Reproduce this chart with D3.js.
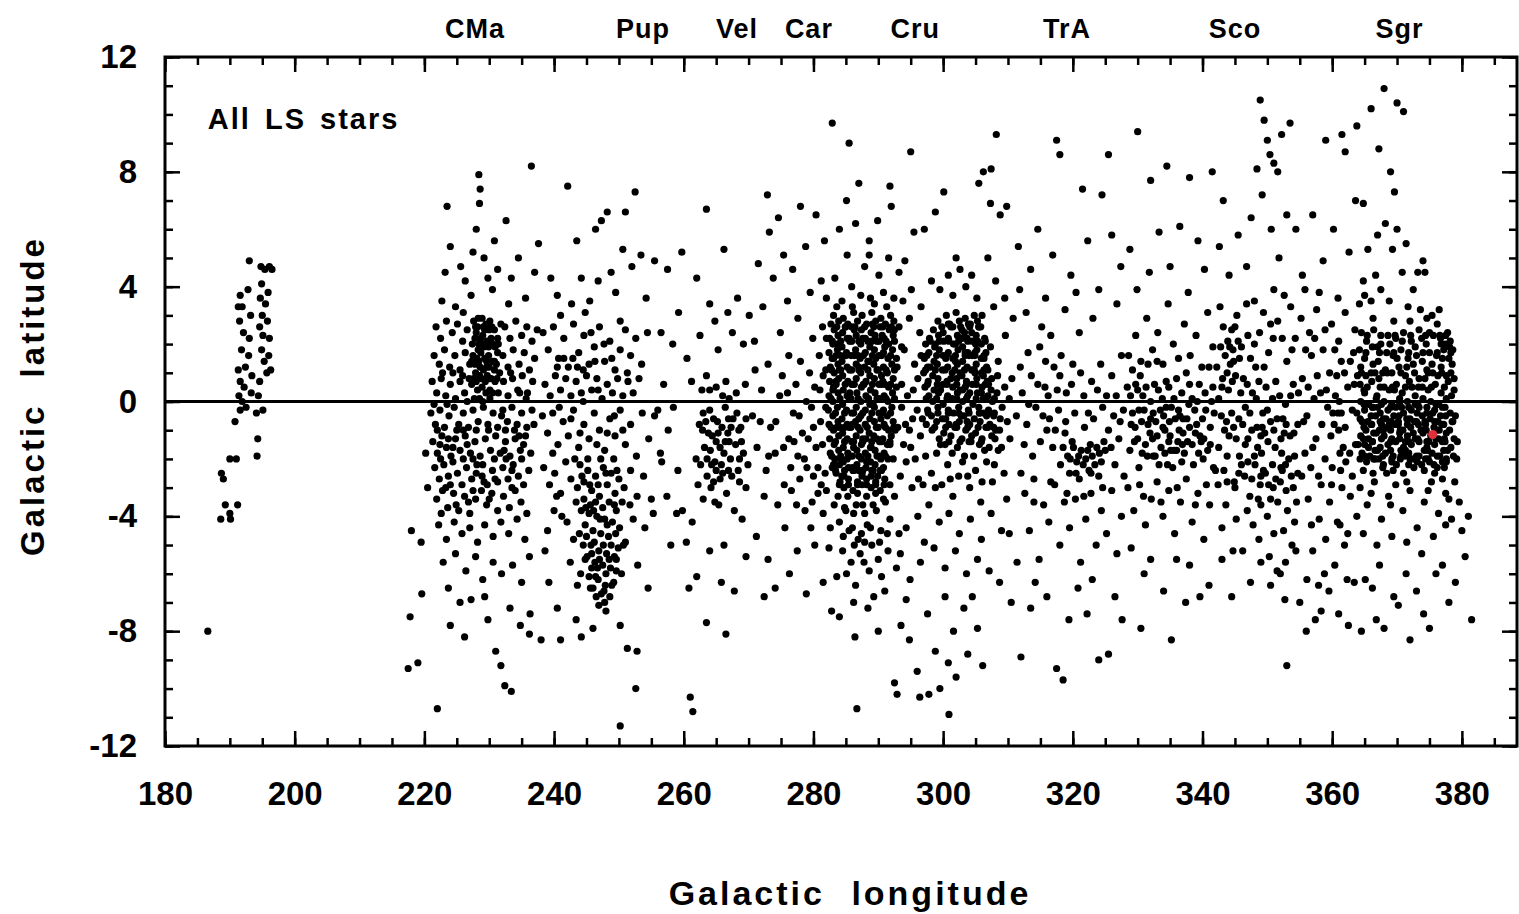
<!DOCTYPE html>
<html>
<head>
<meta charset="utf-8">
<script src="https://cdn.jsdelivr.net/npm/d3@7"></script>
<style>
  body { margin: 0; background: #fff; }
  text { font-family: "Liberation Sans", Arial, Helvetica, sans-serif; font-weight: bold; fill: #000; }
</style>
</head>
<body>
<div id="chart"></div>
<script>
// star positions [galactic longitude, galactic latitude]
var anticentre = [[186.6,-8.0],[188.6,-4.1],[190.1,-4.1],[189.3,-3.6],[191.2,-3.6],[190.0,-3.9],[188.7,-2.5],[189.0,-2.7],[190.0,-2.0],[191.0,-2.0],
  [190.8,-0.7],[191.6,-0.3],[191.4,0.2],[191.9,0.0],[192.5,-0.2],[192.2,0.5],[191.6,0.7],[191.3,1.1],[192.4,1.2],[191.8,1.8],[192.1,2.4],[191.5,2.8],
  [191.3,3.3],[191.9,3.3],[191.6,3.7],[192.8,3.9],[193.0,4.9],[193.2,3.0],[193.0,2.2],[192.9,1.6],[193.4,0.9],[193.3,0.3],[194.1,-0.4],[194.3,-1.3],
  [194.2,-1.9],[195.1,-0.3],[194.4,0.2],[194.6,0.7],[195.7,1.0],[195.3,1.4],[194.9,1.8],[195.1,2.3],[194.6,2.6],[195.0,3.0],[194.7,3.6],[194.9,4.1],
  [194.8,4.7],[195.4,4.6],[196.1,4.7],[196.5,4.6],[195.5,3.4],[195.8,2.8],[196.1,2.2],[195.9,3.8],[196.3,1.1],[196.0,1.6]];

var canisMajor = [[223.5,6.8],[224.0,5.4],[223.2,4.5],[222.7,3.5],[225.6,4.7],[226.3,4.2],[227.2,3.7],[227.5,5.2],[228.4,7.9],[228.6,7.4],[228.5,6.9],
  [228.0,6.0],[229.2,5.0],[229.8,4.3],[230.5,3.9],[231.3,4.6],[230.8,5.6],[232.6,6.3],[233.4,4.3],[234.5,5.0],[236.5,8.2],[235.6,3.6],[237.0,4.5],
  [233.0,3.4],[224.8,3.3],[226.0,3.1],
  [227.6,2.8],[228.2,2.6],[228.9,2.9],[229.5,2.7],[230.1,2.8],[230.8,2.5],[231.3,2.2],[227.8,2.2],[228.4,2.0],[229.0,2.3],[229.7,2.1],[230.3,2.2],
  [230.9,1.9],[227.5,1.6],[228.1,1.5],[228.7,1.7],[229.3,1.5],[229.9,1.6],[230.5,1.4],[231.1,1.3],[227.9,1.0],[228.5,0.9],[229.1,1.1],[229.7,0.9],
  [230.3,0.8],[230.9,0.7],[228.2,0.4],[228.9,0.5],[229.5,0.3],[230.1,0.4],[231.6,1.0],[231.8,2.7],[227.3,0.6],[229.2,1.9],[229.6,1.2],[228.6,1.2],
  [230.0,2.5],[228.3,2.9],[229.0,0.0],
  [228.0,2.4],[228.7,2.2],[229.3,2.5],[230.6,2.0],[229.9,1.9],[228.3,1.8],[230.8,1.1],[230.0,1.2],[229.4,0.7],[228.0,0.7],[227.8,1.3],[231.3,1.7],[230.5,0.3],
  [227.9,2.6],[229.1,2.6],[230.4,2.6],[227.4,2.0],[228.9,2.0],[230.2,2.0],[231.4,2.0],[227.3,1.4],[228.4,1.4],[229.6,1.4],[230.8,1.4],[227.6,0.8],
  [228.8,0.8],[230.0,0.8],[231.2,0.8],[228.5,0.1],[230.1,0.1],
  [221.8,2.6],[222.5,2.2],[223.4,2.8],[224.3,2.4],[225.1,2.7],[225.9,2.1],[226.6,2.5],[232.4,2.6],[233.2,2.2],[234.1,2.8],[235.0,2.3],[235.8,2.6],
  [236.6,2.1],[237.4,2.5],[221.5,1.6],[222.3,1.3],[223.1,1.8],[223.9,1.2],[224.7,1.6],[225.5,1.1],[226.3,1.7],[227.0,1.3],[232.1,1.6],[232.9,1.2],
  [233.7,1.8],[234.6,1.3],[235.4,1.7],[236.2,1.1],[237.0,1.5],[221.2,0.7],[221.9,0.3],[222.6,0.8],[223.3,0.2],[224.0,0.6],[224.8,0.1],[225.5,0.7],
  [226.2,0.3],[226.9,0.8],[227.7,0.1],[231.4,0.3],[232.2,0.7],[232.9,0.2],[233.6,0.8],[234.4,0.4],[235.1,0.9],[235.9,0.3],[236.7,0.7],
  [222.8,1.0],[224.4,1.0],[225.9,0.9],[233.3,1.0],[235.7,0.1],[221.5,-0.1],[223.5,-0.1],[226.6,0.0],[234.7,0.3],
  [221.0,-0.4],[221.7,-0.8],[222.4,-0.3],[223.1,-0.9],[223.8,-0.5],[224.6,-0.2],[225.3,-0.8],[226.0,-0.4],[226.8,-0.9],[227.5,-0.3],[228.3,-0.7],
  [229.1,-0.2],[229.8,-0.8],[230.6,-0.4],[231.3,-0.9],[232.1,-0.3],[232.8,-0.7],[233.5,-0.2],[234.3,-0.8],[235.0,-0.4],[235.8,-0.9],[236.6,-0.3],
  [222.0,-1.0],[223.7,-1.3],[225.0,-1.0],[226.6,-1.5],[232.5,-1.0],[233.9,-1.0],[235.3,-1.5],[236.9,-0.8],
  [222.4,-1.5],[224.4,-1.6],[226.0,-1.0],[227.5,-2.0],[229.2,-2.8],[230.9,-2.7],[232.3,-1.7],[233.5,-2.4],[235.0,-2.0],[223.3,-3.0],[226.8,-3.5],
  [229.9,-1.0],[231.9,-0.5],[228.0,-1.0],[234.6,-1.2],
  [221.3,-1.4],[222.0,-1.8],[222.7,-1.2],[223.4,-1.6],[224.1,-1.9],[224.8,-1.3],[225.5,-1.7],[226.3,-1.2],[227.1,-1.8],[227.8,-1.4],[228.6,-1.9],
  [229.4,-1.3],[230.2,-1.7],[231.0,-1.2],[231.7,-1.8],[232.5,-1.4],[233.2,-1.9],[234.0,-1.3],[234.8,-1.7],[235.6,-1.2],[236.4,-1.8],
  [228.0,-2.5],[229.0,-2.2],[230.8,-2.0],[232.6,-2.0],[224.0,-2.9],[226.0,-2.0],[222.5,-2.0],
  [221.6,-2.3],[222.3,-2.7],[223.0,-2.2],[223.7,-2.6],[224.4,-2.1],[225.1,-2.5],[225.8,-2.9],[226.5,-2.3],[227.3,-2.7],[228.1,-2.2],[228.9,-2.6],
  [229.7,-2.9],[230.5,-2.4],[231.3,-2.8],[232.1,-2.3],[232.9,-2.7],[233.7,-2.2],[234.5,-2.6],[235.3,-2.9],[236.1,-2.4],
  [221.9,-3.4],[222.8,-3.1],[223.6,-3.7],[224.5,-3.2],[225.3,-3.8],[226.2,-3.3],[227.0,-3.9],[227.9,-3.4],[228.8,-3.1],[229.6,-3.6],[230.4,-3.2],
  [231.3,-3.8],[232.2,-3.3],[233.1,-3.7],[234.0,-3.1],[234.9,-3.5],[235.8,-3.9],[224.9,-3.6],[227.5,-3.1],[230.0,-3.4],[233.5,-3.0],[222.6,-3.9],
  [222.2,-4.3],[223.4,-4.8],[224.6,-4.2],[225.8,-4.6],[227.0,-4.4],
  [228.2,-4.9],[229.3,-4.3],[230.6,-4.7],[231.8,-4.2],[233.0,-4.6],[234.3,-4.1],[235.5,-4.8],
  [222.9,-5.6],[224.8,-5.3],[226.4,-5.9],[227.9,-5.4],[229.0,-6.2],[229.3,-6.8],[230.6,-5.6],[231.9,-6.0],[233.6,-5.7],[235.0,-6.3],[236.2,-5.4],
  [223.7,-6.5],[225.5,-7.0],[227.2,-6.9],[229.8,-7.6],[233.2,-7.2],[234.8,-7.8],[236.3,-7.4],[226.2,-8.2],
  [217.5,-9.3],[219.0,-9.1],[217.8,-7.5],[219.6,-6.7],[218.0,-4.5],[219.5,-4.9],[220.5,-3.0],[220.2,-1.8],[222.0,-10.7],[224.0,-7.8],[231.0,-8.7],
  [231.8,-9.2],[232.4,-9.9],[233.4,-10.1],[236.2,-8.1],[238.0,-8.3]];

var puppis = [[237.6,5.5],[239.5,4.3],[240.5,3.7],[241.0,3.0],[242.1,7.5],[243.5,5.6],[244.2,4.3],[245.5,3.5],[246.4,6.0],[247.3,6.3],[248.2,6.6],
  [248.8,4.5],[249.5,3.8],[250.6,5.3],[251.0,6.6],[252.5,7.3],[252.0,4.7],[253.4,5.1],[254.2,3.6],[255.5,4.9],[246.8,4.2],[250.2,2.8],[244.8,3.1],
  [242.7,3.4],
  [238.3,2.4],[239.1,1.8],[239.9,2.6],[240.7,1.5],[241.5,2.2],[242.2,1.2],[243.0,2.7],[243.8,1.7],[244.6,2.3],[245.4,1.3],[246.2,1.9],[247.0,2.6],
  [247.8,1.4],[248.6,2.1],[249.4,1.1],[250.2,1.8],[251.0,2.5],[251.8,1.6],[252.6,2.2],[253.5,1.3],[254.4,2.4],[238.6,0.6],[239.4,0.2],[240.2,0.9],
  [241.0,0.4],[241.8,0.8],[242.6,0.2],[243.4,0.7],[244.2,0.3],[245.0,0.9],[245.8,0.4],[246.6,0.8],[247.4,0.1],[248.2,0.6],[249.0,0.3],[249.8,0.8],
  [250.6,0.2],[251.4,0.7],[252.2,0.3],[253.1,0.8],[240.5,1.2],[242.9,1.5],[244.5,1.1],[246.3,1.4],[248.9,1.5],[251.3,1.0],
  [241.5,1.5],[243.6,1.2],[245.7,2.4],[247.7,2.0],[240.8,-0.2],[242.6,-0.6],[244.5,0.0],[246.8,0.4],[249.3,-0.5],
  [238.2,-0.5],[239.0,-1.1],[239.8,-0.4],[240.6,-1.5],[241.4,-0.7],[242.2,-1.2],[243.0,-0.3],[243.8,-1.6],[244.6,-0.8],[245.4,-1.3],[246.2,-0.4],
  [247.0,-1.0],[247.8,-1.7],[248.6,-0.6],[249.4,-1.2],[250.2,-0.3],[251.0,-1.5],[251.8,-0.8],[252.7,-1.9],[253.6,-0.4],[254.6,-1.3],[255.5,-0.5],
  [256.4,-1.8],[246.6,-1.5],[248.2,-1.1],[250.6,-1.0],[244.0,-1.1],[239.8,-1.8],
  [238.4,-2.3],[239.3,-2.9],[240.1,-2.5],[241.0,-3.2],[241.8,-2.1],[242.6,-2.7],[243.4,-3.5],[244.0,-2.2],[244.6,-2.8],[245.2,-2.4],[245.8,-3.1],
  [246.4,-2.6],[247.0,-3.3],[247.6,-2.3],[248.2,-2.9],[248.8,-2.5],[249.4,-3.2],[250.0,-2.7],[250.8,-3.0],[251.8,-2.4],[252.8,-3.3],[253.8,-2.6],
  [255.0,-3.4],[244.2,-3.8],[244.8,-4.3],[245.4,-3.9],[246.0,-4.5],[246.6,-4.0],[247.2,-4.6],[247.8,-4.1],[248.4,-4.7],[249.0,-4.2],[249.6,-3.8],
  [250.1,-4.4],[244.5,-5.0],[245.1,-5.4],[245.7,-5.0],[246.3,-5.6],[246.9,-5.2],[247.5,-5.7],[248.1,-5.3],[248.7,-5.8],[249.3,-5.4],[249.9,-5.1],
  [245.4,-6.1],[246.0,-6.5],[246.8,-6.2],[247.3,-6.7],[247.9,-6.4],[248.6,-6.8],[249.2,-6.3],
  [244.6,-3.4],[245.6,-3.6],[246.4,-3.5],[247.5,-3.7],[248.5,-3.5],[249.5,-4.6],[245.0,-4.7],[246.2,-4.9],[247.6,-5.0],[248.8,-5.0],[245.8,-5.8],
  [246.7,-5.8],[248.0,-6.0],[249.6,-5.9],[246.5,-6.8],[247.8,-7.0],[245.2,-2.0],[247.2,-2.0],[249.2,-2.0],[243.2,-2.0],[240.4,-3.3],[251.7,-3.6],
  [244.3,-2.6],[245.5,-2.9],[246.8,-2.9],[248.0,-2.5],[249.7,-2.4],[244.9,-3.7],[246.1,-3.8],[247.1,-4.1],[248.2,-4.3],[249.3,-3.6],[244.8,-5.5],
  [245.8,-5.3],[247.0,-5.5],[248.5,-5.5],[249.6,-5.5],[245.6,-6.5],[246.4,-6.1],[247.7,-6.6],[248.9,-6.4],[246.9,-7.1],[243.9,-4.6],[250.5,-3.5],
  [250.7,-5.0],[244.1,-6.0],[243.6,-3.0],
  [242.0,-4.2],[243.0,-4.8],[242.5,-5.6],[241.2,-4.0],[240.0,-3.8],[239.0,-4.5],[238.6,-5.2],[251.0,-4.9],[252.2,-4.1],[252.9,-5.7],[254.0,-4.4],
  [255.3,-3.9],[250.4,-6.0],[243.6,-6.4],
  [240.5,-7.2],[241.0,-8.3],[243.4,-7.6],[246.0,-7.9],[248.0,-7.3],[250.2,-7.8],[251.3,-8.6],[252.8,-8.7],[252.6,-10.0],[250.2,-11.3],[254.5,-6.5],
  [244.2,-8.2],[239.2,-6.3]];

var vela = [[256.5,2.4],[257.5,4.6],[258.3,2.0],[259.2,3.1],[260.5,1.5],[261.2,0.7],[262.5,2.3],[263.5,6.7],[264.0,3.4],[264.8,2.8],[265.3,1.8],
  [266.2,5.3],[266.8,3.1],[267.5,2.4],[268.3,3.6],[269.2,2.0],[270.1,3.0],[259.7,5.2],[262.0,4.3],
  [256.0,-0.3],[256.9,0.6],[257.6,-1.0],[258.4,-0.2],[259.1,-2.4],[259.8,-3.8],[258.9,-3.9],[257.4,-3.3],[256.6,-2.1],[258.0,-5.0],[260.4,-4.9],
  [261.3,-4.2],[261.9,-2.0],[262.4,-0.8],[262.8,0.4],[263.2,-1.6],[263.6,-2.6],[264.0,-0.3],[264.4,-1.2],[264.8,-2.1],[265.2,-0.7],[265.6,-1.6],
  [266.0,-2.5],[266.4,-0.2],[266.8,-1.1],[267.2,-2.0],[267.6,-0.6],[268.0,-1.5],[268.4,-2.4],[268.8,-0.9],[269.2,-1.8],[269.6,-3.0],[263.0,-3.4],
  [264.2,-3.0],[265.4,-3.6],[266.6,-3.2],[267.8,-3.8],[269.0,-4.1],[263.5,0.9],[265.0,0.5],[266.5,0.7],[268.1,0.3],[269.5,0.6],[262.2,-2.9],
  [264.6,-2.8],[265.8,-2.2],[267.0,-1.4],[268.6,-2.0],[262.9,-1.0],[265.9,-0.9],
  [263.0,-0.4],[263.8,-1.1],[264.6,-0.6],[265.0,-1.4],[265.6,-2.7],[266.2,-1.8],[266.9,-0.6],[267.4,-2.6],[268.2,-0.4],[268.9,-1.4],[269.6,-0.6],
  [263.6,-2.0],[264.3,-2.2],[267.0,0.1],[264.8,-3.5],[262.6,-2.2],[269.9,-2.2],[266.0,0.2],
  [263.4,-0.7],[264.1,-1.7],[265.3,-1.1],[266.4,-1.4],[267.3,-0.9],[268.5,-1.0],[265.0,-2.4],[266.9,-2.4],[264.0,0.4],[268.6,-2.8],
  [261.0,-10.3],[261.4,-10.8],[263.5,-7.7],[266.5,-8.1],[265.8,-6.3],[266.2,-5.0],[264.0,-5.2],[267.8,-6.6],[269.6,-5.4],[262.0,-6.1],[260.8,-6.5]];

var velaCarina = [[272.9,7.2],[273.2,5.9],[273.8,4.3],[274.6,6.4],[275.4,5.1],[276.0,3.5],[276.8,4.6],[277.6,2.9],[278.0,6.8],[278.8,5.4],[279.5,3.8],
  [280.4,6.5],[281.2,4.2],[281.7,5.6],[271.5,4.8],[272.2,3.3],[270.9,2.1],[274.9,2.4],[276.2,1.6],[279.9,2.2],[281.4,2.6],
  [270.6,-0.5],[271.3,-1.6],[272.0,0.4],[272.7,-2.4],[273.4,-0.9],[274.1,-1.8],[274.8,0.2],[275.5,-2.9],[276.2,-1.3],[276.9,-0.4],[277.6,-1.9],
  [278.3,-1.1],[279.0,-2.3],[279.7,-0.2],[280.4,-1.6],[281.1,-0.7],[281.8,-2.5],[271.0,1.1],[273.0,1.3],[275.2,0.9],[277.3,0.6],[279.4,1.0],
  [281.0,0.4],[272.4,-3.3],[274.5,-3.6],[276.6,-3.1],[278.7,-3.8],[280.7,-3.2],[277.9,-2.7],[280.0,-2.6],
  [277.0,-1.4],[277.8,-0.5],[278.6,-2.0],[279.2,-1.3],[280.0,-0.9],[280.7,-2.3],[281.4,-1.5],[281.9,-0.2],[281.5,0.9],[280.2,0.5],[278.9,0.0],
  [276.5,-2.3],[275.4,-1.6],[274.2,-0.7],[273.1,-1.9],[271.8,-0.7],[282.0,-3.1],[281.2,-2.9],[279.8,-3.5],[277.4,-3.6],[276.0,0.3],[278.0,1.4],
  [280.9,1.6],[282.0,2.2],[281.9,1.1],
  [271.2,-4.7],[273.0,-5.5],[274.1,-6.5],[275.6,-4.4],[276.3,-6.0],[277.5,-5.2],[278.9,-6.7],[280.2,-5.0],[281.5,-6.3],[272.4,-6.8],[279.6,-4.4]];

var carina = [[283.1,3.0],[284.6,2.9],[286.2,3.1],[287.5,3.0],[289.0,3.1],[290.4,2.9],[291.9,3.0],
  [282.7,2.7],[283.9,2.8],[285.3,2.7],[286.8,2.8],[288.2,2.7],[289.6,2.8],[291.1,2.7],[292.4,2.8],
  [283.2,2.5],[284.5,2.4],[285.9,2.6],[287.4,2.5],[288.9,2.4],[290.3,2.6],[291.7,2.5],
  [282.5,2.2],[283.8,2.3],[285.2,2.2],[286.6,2.3],[288.0,2.2],[289.5,2.3],[290.9,2.2],[292.3,2.3],
  [283.0,2.0],[284.4,1.9],[285.9,2.1],[287.3,2.0],[288.7,1.9],[290.1,2.1],[291.6,2.0],
  [282.4,1.7],[283.7,1.8],[285.1,1.7],[286.5,1.8],[288.0,1.7],[289.4,1.8],[290.8,1.7],[292.2,1.8],
  [283.1,1.5],[284.4,1.4],[285.8,1.6],[287.2,1.5],[288.6,1.4],[290.1,1.6],[291.5,1.5],
  [282.6,1.2],[283.8,1.3],[285.2,1.2],[286.6,1.3],[287.9,1.2],[289.3,1.3],[290.8,1.2],[292.1,1.3],
  [283.2,1.0],[284.5,0.9],[285.9,1.1],[287.3,1.0],[288.7,0.9],[290.0,1.1],[291.4,1.0],
  [282.5,0.7],[283.9,0.8],[285.3,0.7],[286.6,0.8],[288.1,0.7],[289.4,0.8],[290.7,0.7],[292.3,0.8],
  [283.1,0.5],[284.6,0.4],[285.9,0.6],[287.4,0.5],[288.8,0.4],[290.1,0.6],[291.6,0.5],
  [282.4,0.2],[283.8,0.3],[285.2,0.2],[286.7,0.3],[288.1,0.2],[289.5,0.3],[290.9,0.2],[292.2,0.3],
  [283.0,0.0],[284.5,-0.1],[285.8,0.1],[287.3,0.0],[288.7,-0.1],[290.2,0.1],[291.5,0.0],
  [282.3,-0.3],[283.7,-0.2],[285.1,-0.3],[286.6,-0.2],[288.0,-0.3],[289.4,-0.2],[290.8,-0.3],[292.1,-0.2],
  [283.0,-0.5],[284.4,-0.6],[285.9,-0.4],[287.3,-0.5],[288.7,-0.6],[290.1,-0.4],[291.4,-0.5],
  [282.4,-0.8],[283.8,-0.7],[285.2,-0.8],[286.5,-0.7],[288.0,-0.8],[289.4,-0.7],[290.9,-0.8],[292.3,-0.7],
  [283.1,-1.0],[284.5,-1.1],[285.8,-0.9],[287.2,-1.0],[288.6,-1.1],[290.0,-0.9],[291.6,-1.0],
  [282.5,-1.3],[283.9,-1.2],[285.2,-1.3],[286.6,-1.2],[288.1,-1.3],[289.3,-1.2],[290.7,-1.3],[292.0,-1.2],
  [283.2,-1.5],[284.6,-1.6],[285.9,-1.4],[287.4,-1.5],[288.8,-1.6],[290.2,-1.4],[291.4,-1.5],
  [282.6,-1.8],[283.9,-1.7],[285.3,-1.8],[286.7,-1.7],[288.0,-1.8],[289.5,-1.7],[290.9,-1.8],
  [283.3,-2.0],[284.6,-2.1],[286.0,-1.9],[287.4,-2.0],[288.8,-2.1],[290.2,-1.9],[291.5,-2.0],
  [282.9,-2.3],[284.0,-2.2],[285.4,-2.3],[286.7,-2.2],[288.1,-2.3],[289.5,-2.2],[290.8,-2.3],
  [283.5,-2.5],[284.7,-2.6],[286.1,-2.4],[287.5,-2.5],[288.9,-2.6],[290.3,-2.4],
  [284.1,-2.8],[285.4,-2.7],[286.8,-2.8],[288.2,-2.7],[289.6,-2.8],[291.0,-2.7],
  [284.7,-3.0],[286.1,-3.1],[287.5,-2.9],[288.9,-3.0],[290.3,-3.1],[285.3,-3.3],[286.8,-3.2],[288.2,-3.3],[289.6,-3.2],
  [284.0,1.1],[285.6,0.3],[287.0,-0.6],[288.4,1.4],[289.8,-1.3],[286.2,-1.6],[284.8,-0.9],[287.8,0.6],[289.0,2.1],[285.5,2.2],[286.9,1.6],
  [288.2,-2.1],[290.5,0.9],[284.3,-2.0],[287.5,-2.6],[289.2,-0.1],[283.5,0.7],[286.0,-2.3],[288.9,-1.6],[285.0,1.6],
  [283.5,2.0],[284.9,2.6],[286.3,2.5],[287.6,2.2],[289.1,2.7],[290.6,2.3],[282.9,1.5],[284.2,1.6],[287.0,1.2],[289.6,1.5],[291.0,1.9],[283.0,0.4],
  [286.0,0.6],[288.5,0.1],[291.0,0.6],[283.6,-0.9],[286.0,-0.8],[287.6,-1.3],[290.4,-0.6],[291.8,-1.5],[283.1,-2.2],[285.2,-2.0],[287.0,-2.4],
  [289.2,-2.4],[290.4,-2.0],[284.4,-2.6],[289.9,-2.6],
  [283.8,-3.3],[285.0,-3.8],[286.6,-3.6],[287.9,-3.9],[289.2,-3.6],[290.8,-3.4],[291.8,-2.9],[292.3,-2.0],[292.6,-1.0],[292.8,0.5],[292.8,1.5],
  [292.5,2.5],[284.6,-4.7],[286.0,-4.4],[287.4,-4.6],[288.8,-4.4],[290.2,-4.9],[291.4,-4.6],[285.1,-6.0],[287.8,-5.6],[290.5,-6.1],[286.2,-7.0],
  [282.0,3.6],[283.3,4.3],[284.4,3.5],[285.2,5.1],[285.9,4.0],[286.5,6.2],[287.3,3.7],[287.9,4.7],[288.6,5.6],[289.4,3.4],[290.1,4.4],[290.8,3.8],
  [291.6,5.0],[292.4,3.6],[293.2,4.5],[284.0,6.0],[286.0,3.3],[288.8,3.6],[283.6,3.3],[291.3,3.3],[289.9,6.3],[292.0,6.8],[285.1,7.0],[287.0,7.6],
  [282.9,9.7],[285.5,9.0],[288.6,5.1],[291.8,7.5],
  [283.2,-3.6],[284.0,-4.2],[284.8,-3.7],[285.5,-4.5],[286.2,-3.9],[286.9,-4.8],[287.6,-3.6],[288.3,-4.3],[289.0,-5.0],[289.7,-3.8],[290.4,-4.5],
  [291.1,-3.5],[291.8,-4.1],[292.5,-3.3],[293.2,-4.6],[284.5,-5.2],[285.8,-5.6],[287.2,-5.3],[288.6,-5.9],[290.0,-5.5],[291.5,-5.2],[292.8,-5.8],
  [283.6,-6.1],[286.5,-6.4],[289.3,-6.8],[291.0,-6.6],[282.4,-5.1],[281.5,-3.9],[282.6,-4.4],[287.9,-4.9],[286.3,-5.0],
  [282.8,-7.3],[286.4,-8.2],[286.7,-10.7],[288.4,-7.2],[290.0,-8.0],[292.5,-9.8],[292.9,-10.2],[284.0,-7.5]];

// the blackest part of the Carina clump, between the rows above
var carinaCore = [[283.6,2.6],[285.0,2.6],[286.4,2.6],[287.9,2.6],[289.3,2.6],[290.7,2.6],[292.0,2.6],
  [282.9,2.1],[284.2,2.1],[285.6,2.1],[287.0,2.1],[288.4,2.1],[289.8,2.1],[291.2,2.1],[292.5,2.1],
  [283.5,1.6],[284.9,1.6],[286.3,1.6],[287.7,1.6],[289.1,1.6],[290.5,1.6],[291.9,1.6],
  [282.8,1.1],[284.2,1.1],[285.6,1.1],[287.0,1.1],[288.4,1.1],[289.8,1.1],[291.2,1.1],[292.5,1.1],
  [283.5,0.6],[284.9,0.6],[286.3,0.6],[287.7,0.6],[289.1,0.6],[290.5,0.6],[291.9,0.6],
  [282.7,0.1],[284.1,0.1],[285.5,0.1],[286.9,0.1],[288.4,0.1],[289.8,0.1],[291.2,0.1],[292.5,0.1],
  [283.4,-0.4],[284.8,-0.4],[286.2,-0.4],[287.6,-0.4],[289.0,-0.4],[290.5,-0.4],[291.9,-0.4],
  [282.7,-0.9],[284.1,-0.9],[285.5,-0.9],[286.9,-0.9],[288.3,-0.9],[289.7,-0.9],[291.1,-0.9],[292.4,-0.9],
  [283.4,-1.4],[284.8,-1.4],[286.2,-1.4],[287.6,-1.4],[289.0,-1.4],[290.5,-1.4],[291.8,-1.4],
  [282.8,-1.9],[284.2,-1.9],[285.6,-1.9],[287.0,-1.9],[288.4,-1.9],[289.8,-1.9],[291.1,-1.9],
  [283.4,-2.4],[284.8,-2.4],[286.2,-2.4],[287.6,-2.4],[289.0,-2.4],[290.5,-2.4],
  [284.0,-2.9],[285.4,-2.9],[286.8,-2.9],[288.2,-2.9],[289.6,-2.9],[290.9,-2.9]];

var crux = [[300.5,3.0],[302.0,3.1],[303.4,2.9],[304.8,3.0],[299.2,2.8],[300.8,2.7],[302.5,2.8],[303.9,2.7],[305.3,2.8],
  [298.5,2.5],[300.0,2.4],[301.5,2.6],[302.9,2.5],[304.4,2.4],[305.8,2.6],[297.9,2.2],[299.3,2.3],[300.8,2.2],[302.2,2.3],[303.7,2.2],[305.1,2.3],[306.4,2.2],
  [297.3,2.0],[298.7,1.9],[300.1,2.1],[301.6,2.0],[303.0,1.9],[304.5,2.1],[305.9,2.0],[297.8,1.7],[299.4,1.8],[300.8,1.7],[302.3,1.8],[303.8,1.7],[305.2,1.8],[306.6,1.7],
  [297.1,1.5],[298.6,1.4],[300.0,1.6],[301.5,1.5],[303.0,1.4],[304.5,1.6],[305.9,1.5],[297.6,1.2],[299.1,1.3],[300.7,1.2],[302.2,1.3],[303.7,1.2],[305.1,1.3],[306.7,1.2],
  [297.0,1.0],[298.4,0.9],[299.9,1.1],[301.4,1.0],[302.9,0.9],[304.4,1.1],[305.9,1.0],[297.7,0.7],[299.2,0.8],[300.6,0.7],[302.1,0.8],[303.6,0.7],[305.2,0.8],[306.8,0.7],
  [297.2,0.5],[298.6,0.4],[300.0,0.6],[301.5,0.5],[303.0,0.4],[304.5,0.6],[306.0,0.5],[307.4,0.4],[297.8,0.2],[299.3,0.3],[300.7,0.2],[302.2,0.3],[303.8,0.2],[305.3,0.3],[306.9,0.2],
  [298.4,0.0],[300.0,-0.1],[301.4,0.1],[303.0,0.0],[304.6,-0.1],[306.2,0.1],[307.6,0.0],[297.6,-0.3],[299.2,-0.2],[300.8,-0.3],[302.4,-0.2],[303.9,-0.3],[305.5,-0.2],[307.0,-0.3],
  [298.2,-0.5],[299.9,-0.6],[301.6,-0.4],[303.2,-0.5],[304.8,-0.6],[306.3,-0.4],[307.8,-0.5],[297.4,-0.8],[299.0,-0.7],[300.9,-0.8],[302.5,-0.7],[304.1,-0.8],[305.7,-0.7],[307.2,-0.8],
  [298.3,-1.0],[300.1,-1.1],[301.8,-0.9],[303.5,-1.0],[305.0,-1.1],[306.6,-0.9],[308.1,-1.0],[299.4,-1.3],[301.2,-1.2],[302.9,-1.3],[304.4,-1.2],[306.0,-1.3],[307.5,-1.2],
  [300.3,-1.5],[302.2,-1.6],[304.0,-1.4],[305.6,-1.5],[307.1,-1.6],
  [303.3,2.4],[304.0,1.6],[302.6,1.0],[305.5,2.6],[303.4,0.5],[304.9,1.0],[301.9,2.0],[305.9,0.3],[306.3,1.5],[302.8,-0.5],
  [301.0,2.7],[302.9,2.2],[304.2,2.7],[305.0,2.0],[300.4,1.5],[301.9,1.4],[303.4,1.7],[304.9,1.7],[306.2,0.9],[301.2,0.8],[302.6,0.4],[304.1,0.3],
  [305.6,-0.4],[300.4,-0.6],[302.0,-0.8],[303.7,-0.7],[299.6,0.4],[298.0,1.2],[298.8,2.0],[299.6,-1.5],[301.4,-1.8],[303.0,-2.1],[304.7,-1.9],
  [306.4,-1.7],[307.9,-2.2],[296.8,-0.6],[296.6,1.6],[295.4,0.4],[294.2,-0.8],[293.6,1.9],[295.0,-1.6],[296.9,-2.9],[298.8,-3.0],[301.1,-2.7],
  [303.8,-2.6],[306.0,-2.8],[308.8,-0.6],[308.4,0.9],[310.2,0.1],[309.0,-1.6],[307.8,-0.9],[307.0,0.6],[306.7,-0.5],
  [300.8,4.4],[302.0,5.0],[302.6,4.6],[303.5,4.0],[301.5,3.7],[304.4,4.4],[299.5,3.9],[305.2,3.6],[298.2,4.2],
  [293.2,2.6],[294.0,1.8],[294.8,2.9],[295.6,1.3],[296.4,2.4],[293.6,0.6],[294.5,0.2],[295.3,-0.6],[296.1,0.8],[293.0,-0.9],[293.9,-1.5],[294.8,-1.0],
  [295.7,-2.0],[296.5,-1.2],[293.4,-2.6],[294.3,-2.1],[295.2,-3.0],[296.2,-2.7],[293.8,3.5],[295.1,3.9],[296.6,3.3],[294.1,4.9],[295.5,5.9],[293.6,-0.2],
  [296.0,-0.3],[292.9,1.2],
  [297.3,-1.9],[298.2,-2.5],[299.0,-1.8],[299.8,-2.9],[300.7,-2.2],[301.5,-3.3],[302.4,-2.6],[303.3,-1.9],[304.1,-3.0],[305.0,-2.4],[305.8,-3.5],
  [306.7,-2.1],[307.6,-2.8],[308.5,-1.7],[309.4,-2.5],[297.8,-3.6],[299.4,-4.2],[300.9,-3.9],[302.5,-4.6],[304.2,-4.1],[305.9,-4.8],[307.4,-3.9],
  [309.0,-4.5],[298.6,-5.1],[300.3,-5.8],[301.9,-5.2],[303.6,-6.0],[305.3,-5.5],[307.1,-5.9],[308.7,-6.3],[297.1,-4.9],[296.1,-4.0],[294.3,-4.4],
  [293.4,-5.3],[294.9,-6.2],[296.5,-5.6],[309.8,-3.4],
  [293.5,-7.8],[294.8,-8.3],[296.0,-9.4],[296.4,-10.3],[297.6,-7.4],[298.8,-8.7],[299.5,-10.0],[300.3,-6.8],[300.8,-9.1],[301.6,-8.0],[302.0,-9.6],
  [303.2,-7.2],[303.8,-8.8],[304.5,-6.8],[305.3,-7.9],[306.1,-9.2],[297.8,-10.2],[294.3,-6.9],[300.9,-10.9],
  [307.5,0.8],[308.3,0.3],[309.1,-0.2],[309.9,-0.7],[307.9,-0.4],[308.7,-1.0],[309.5,0.5],[310.3,-1.3],[308.0,-1.3],[306.9,1.1],[307.3,1.9],
  [308.5,1.4],[309.6,2.3],[310.6,0.8],[311.3,-0.5],[311.9,1.2],
  [305.5,7.6],[306.2,8.0],[307.4,8.1],[308.2,9.3],[307.3,6.9],[308.8,6.5],[309.8,6.8],[306.9,5.0],[308.1,4.2],[309.5,3.6],[310.8,2.9],[311.6,5.4],
  [307.8,3.3],[306.0,3.0],[295.0,8.7],[297.1,6.0],[298.8,6.6],[300.1,7.3]];

// the blackest part of the Crux clump
var cruxCore = [[299.8,2.6],[301.2,2.6],[302.7,2.6],[304.1,2.6],[305.5,2.6],
  [298.0,2.1],[299.4,2.1],[300.9,2.1],[302.4,2.1],[303.8,2.1],[305.3,2.1],[306.5,2.1],
  [297.5,1.6],[299.0,1.6],[300.5,1.6],[301.9,1.6],[303.4,1.6],[304.9,1.6],[306.3,1.6],
  [297.3,1.1],[298.8,1.1],[300.3,1.1],[301.8,1.1],[303.3,1.1],[304.8,1.1],[306.3,1.1],
  [297.6,0.6],[299.1,0.6],[300.6,0.6],[302.1,0.6],[303.6,0.6],[305.1,0.6],[306.5,0.6],
  [297.4,0.1],[299.0,0.1],[300.6,0.1],[302.1,0.1],[303.6,0.1],[305.1,0.1],[306.6,0.1],[307.9,0.1],
  [297.7,-0.4],[299.2,-0.4],[300.8,-0.4],[302.4,-0.4],[304.0,-0.4],[305.6,-0.4],[307.1,-0.4],
  [298.7,-0.9],[300.4,-0.9],[302.1,-0.9],[303.8,-0.9],[305.4,-0.9],[306.9,-0.9],
  [300.9,-1.4],[302.6,-1.4],[304.3,-1.4],[305.9,-1.4]];

var triangulum = [[312.2,0.3],[312.9,-0.8],[313.6,0.9],[314.3,-0.2],[315.0,-1.4],[315.7,0.5],[316.4,-0.6],[317.1,1.2],[317.8,-0.3],[318.5,-1.6],
  [319.2,-1.9],[319.9,-1.4],[320.6,-2.1],[321.3,-1.7],[322.0,-2.0],[322.7,-1.5],[323.4,-2.2],[324.1,-1.8],[324.8,-1.4],[318.9,-0.7],[320.3,-0.4],
  [321.8,-0.9],[323.2,-0.6],[324.6,-0.2],[325.5,-1.0],[326.3,-0.5],[327.1,-1.3],[327.8,-0.3],[313.1,1.7],[314.9,1.9],[316.6,2.3],[318.2,1.6],
  [319.8,0.6],[321.2,1.0],[322.9,0.7],[324.3,1.3],[326.0,0.9],[327.5,1.6],[319.5,-2.5],[321.0,-2.7],[322.5,-2.4],[324.0,-2.6],
  [312.5,-1.5],[313.8,-1.9],[314.6,0.6],[315.4,-0.5],[316.2,0.2],[316.9,-1.6],[317.6,0.4],[318.1,-2.2],[318.8,-1.1],[319.6,-2.0],[320.1,-1.6],
  [320.9,-1.9],[321.6,-2.2],[322.3,-1.7],[323.0,-1.9],[323.7,-1.6],[324.4,-2.1],[325.0,-1.7],[320.5,-2.5],[322.8,-2.5],[319.0,0.3],[320.0,1.3],
  [321.7,0.2],[322.4,-0.4],[323.8,0.4],[325.2,0.2],[325.9,-1.6],[326.7,0.2],[327.3,-0.7],[313.2,-0.1],[315.8,1.4],[317.3,-1.0],[314.0,-3.5],
  [316.6,-2.8],[319.1,-3.2],[321.7,-3.3],[324.6,-3.0],[326.5,-2.2],[327.9,-2.6],[312.0,-2.5],[316.0,-1.0],[318.0,0.9],
  [312.8,3.1],[313.5,4.6],[314.6,6.0],[315.8,3.6],[316.9,5.1],[317.5,9.1],[318.0,8.6],[318.8,3.2],[319.7,4.4],[320.5,3.8],[321.5,7.4],[322.3,5.6],
  [323.1,2.9],[324.5,7.2],[325.5,8.6],[326.0,5.8],[326.8,3.4],[327.4,4.7],[315.2,2.6],[321.0,2.4],[324.0,3.9],[311.8,3.9],
  [312.6,-3.2],[313.3,-4.5],[314.0,-2.7],[314.8,-5.5],[315.5,-3.6],[316.3,-4.2],[317.2,-2.9],[318.0,-5.0],[318.7,-3.5],[319.5,-4.4],[320.4,-3.4],
  [321.2,-5.6],[322.0,-4.1],[322.8,-3.2],[323.6,-5.0],[324.4,-3.8],[325.2,-4.6],[326.0,-3.1],[326.8,-5.3],[327.5,-4.0],[312.0,-8.9],[313.5,-7.2],
  [314.2,-6.3],[316.0,-6.8],[317.5,-9.3],[318.5,-9.7],[319.4,-7.6],[320.8,-6.5],[322.2,-7.4],[323.0,-6.2],[324.0,-9.0],[325.5,-8.8],[326.5,-6.8],
  [327.6,-7.6],[311.4,-5.6],[310.5,-7.0],[310.2,-4.6]];

var norma = [[328.4,0.5],[329.2,-0.4],[330.0,-1.3],[330.8,0.2],[331.6,-0.8],[332.4,-1.9],[333.2,0.4],[334.0,-0.5],[334.8,-1.4],[335.6,0.1],
  [336.4,-1.0],[337.2,-1.8],[338.0,0.6],[338.8,-0.3],[339.6,-1.2],[340.4,0.3],[341.2,-0.9],[328.8,-1.7],[329.6,-0.9],[330.4,0.9],[331.2,-1.5],
  [332.0,0.0],[332.8,-0.7],[333.6,-1.6],[334.4,0.7],[335.2,-0.2],[336.0,-1.7],[336.8,0.3],[337.6,-0.6],[338.4,-1.5],[339.2,0.0],[340.0,-0.6],
  [340.8,-1.7],[341.6,0.5],[333.0,-1.2],[334.2,-1.0],[335.0,-1.2],[336.2,-1.4],[337.0,-1.1],[332.3,-1.3],[331.0,-0.3],[333.8,0.1],[335.8,-0.6],
  [338.0,-0.9],[339.4,-1.8],[330.2,-2.3],[334.6,-2.2],
  [328.9,0.2],[329.7,0.6],[330.6,-0.7],[331.3,0.5],[332.0,-0.6],[332.7,-1.9],[333.5,-0.3],[334.2,-1.8],[334.9,-0.7],[335.6,-1.7],[336.3,-0.3],
  [337.0,-0.6],[337.7,-1.4],[338.4,0.1],[339.1,-0.8],[339.8,-1.4],[340.5,-0.3],[341.2,-1.5],[341.8,-0.4],[329.5,-1.4],[330.7,-1.8],[331.9,-1.1],
  [333.3,-2.2],[335.4,-2.3],[336.8,-2.1],[338.6,-2.2],[340.1,-2.0],[341.7,-2.3],[329.2,1.1],[331.6,1.3],[333.0,1.4],[334.8,0.5],[336.0,0.8],
  [337.5,1.0],[339.5,0.6],[341.0,1.2],[330.9,-3.3],[333.6,-3.5],[336.1,-3.0],[338.9,-3.6],[340.6,-2.9],[342.0,-2.4],
  [329.0,-0.8],[330.2,-0.3],[331.5,-1.9],[332.6,0.6],[333.9,-0.9],[335.1,-1.7],[336.5,-0.5],[337.9,-0.1],[338.9,-1.1],[340.2,-1.3],[341.4,0.0],
  [334.4,-0.2],[336.9,-1.5],[332.4,-0.4],[330.0,0.4],
  [328.6,1.6],[329.7,2.3],[330.5,1.4],[331.4,2.9],[332.3,1.8],[333.1,2.4],[333.9,1.3],[334.7,3.4],[335.5,2.0],[336.3,1.5],[337.2,2.7],[338.1,1.6],
  [339.0,2.3],[339.9,1.2],[340.8,3.1],[341.6,1.9],[329.9,3.9],[331.8,4.5],[335.0,4.7],[337.8,3.8],[340.3,4.6],[330.0,9.4],[332.0,7.7],[334.5,8.2],
  [338.0,7.8],[341.5,8.0],[328.8,5.3],[333.3,5.9],[336.5,6.1],[339.3,5.6],
  [328.5,-3.0],[329.4,-3.8],[330.3,-2.9],[331.2,-4.3],[332.1,-3.4],[333.0,-2.8],[333.9,-4.0],[334.8,-3.1],[335.7,-4.6],[336.6,-3.5],[337.5,-2.7],
  [338.4,-4.2],[339.3,-3.2],[340.2,-4.8],[341.1,-3.6],[329.0,-5.1],[331.0,-6.0],[332.0,-5.5],[334.0,-6.6],[336.0,-5.5],[338.0,-5.7],[339.6,-6.8],
  [341.0,-6.4],[330.5,-7.9],[335.2,-8.3],[337.4,-7.0]];

var scorpius = [[342.2,1.2],[342.9,-0.5],[343.5,1.6],[343.9,2.1],[344.3,1.3],[344.7,1.8],[345.1,0.9],[343.2,2.6],[344.0,0.4],[345.6,-0.6],[346.3,0.8],
  [347.0,-1.3],[347.7,0.3],[348.4,-0.9],[349.1,-1.8],[349.8,0.5],[350.5,-0.7],[351.2,-1.6],[351.9,0.2],[352.6,-1.1],[353.3,-2.0],[354.0,0.6],
  [354.7,-0.8],[342.5,-1.6],[343.3,-2.4],[344.1,-1.2],[344.9,-2.8],[345.7,-1.9],[346.5,-2.6],[347.3,-3.3],[348.1,-2.2],[348.9,-2.9],[349.7,-2.5],
  [350.5,-3.4],[351.3,-2.7],[352.1,-2.3],[352.9,-3.1],[353.7,-2.6],[354.5,-3.5],[346.0,1.9],[347.4,1.5],[348.8,2.4],[350.2,1.7],[351.6,2.8],
  [353.0,1.4],[354.3,2.2],[342.7,3.3],[345.3,3.0],[348.0,3.5],[351.0,3.9],[353.6,3.3],[349.0,-1.2],[349.3,-0.4],[352.2,-1.8],[352.4,-0.6],
  [346.6,-0.2],[350.8,0.1],[343.6,-3.6],[345.2,-4.1],[347.8,-4.3],[350.0,-4.0],[352.5,-4.5],[354.2,-4.2],[342.4,-2.9],[348.5,-1.6],
  [342.5,0.1],[343.1,0.8],[343.7,-0.7],[344.5,-0.4],[345.2,-1.3],[345.9,0.3],[346.6,-1.5],[347.3,-0.4],[348.0,-1.9],[348.7,0.7],[349.4,-2.4],
  [350.1,-1.4],[350.8,-2.2],[351.5,-0.6],[352.0,-2.8],[352.8,-0.1],[353.5,-1.2],[354.2,-1.9],[354.8,0.3],[343.8,-1.9],[345.0,-3.0],[346.0,-2.2],
  [347.6,-2.7],[349.0,-3.6],[350.2,-2.9],[351.6,-3.5],[353.1,-3.8],[354.7,-2.5],[342.8,1.9],[344.5,2.5],[345.7,1.5],[347.0,2.3],[348.2,1.2],
  [349.5,1.2],[350.9,2.2],[352.3,2.2],[353.8,1.8],[346.8,3.4],[349.4,3.1],[352.6,3.7],[344.8,1.4],[344.2,1.9],[343.8,1.0],[345.5,2.1],[349.2,-0.9],
  [349.0,-2.6],[352.1,-1.3],[352.3,-2.4],[346.9,-3.8],[348.7,-4.8],[351.0,-4.6],[353.8,-5.0],[343.0,-4.4],[344.7,-5.2],[350.3,-5.4],[352.8,-5.6],
  [343.4,-1.0],[344.8,-0.9],[346.2,-0.8],[347.6,-1.0],[349.6,-1.1],[351.0,-1.0],[352.9,-0.8],[354.1,-1.1],[343.0,0.5],[344.6,0.7],[346.9,0.6],
  [348.3,0.1],[350.0,-0.3],[351.3,0.7],[353.6,0.2],[343.8,-2.8],[345.6,-2.5],[347.0,-2.1],[348.6,-3.4],[350.9,-3.0],[352.8,-2.2],[354.0,-3.0],
  [345.0,2.6],[348.0,2.0],[350.5,2.7],
  [342.6,5.4],[343.2,7.0],[345.5,5.8],[346.8,4.7],[348.4,8.1],[348.9,10.5],[349.5,9.8],[350.0,9.1],[350.4,8.6],[351.0,8.3],[351.6,8.0],[352.2,9.3],
  [353.5,9.7],[353.0,6.5],[349.2,7.2],[347.5,6.4],[351.8,5.0],[354.4,6.0],[344.1,4.4],[350.6,6.0],
  [343.0,-5.5],[344.5,-6.8],[346.2,-5.2],[347.4,-6.3],[349.0,-5.6],[350.5,-6.4],[351.5,-5.9],[352.0,-6.0],[352.7,-6.9],[353.0,-9.2],[354.4,-5.2],
  [355.0,-7.0]];

var ara = [[355.4,0.8],[356.1,-0.5],[356.8,1.6],[357.5,-1.3],[358.2,0.3],[358.9,-2.0],[359.6,1.0],[360.3,-0.8],[361.0,2.1],[361.7,-1.6],[362.4,0.5],
  [363.1,-0.3],[355.8,-1.8],[356.5,2.4],[357.2,0.1],[357.9,-2.6],[358.6,1.8],[359.3,-0.2],[360.0,-2.3],[360.7,0.9],[361.4,-0.4],[362.1,-2.1],
  [362.8,1.4],[363.6,-1.5],[355.2,2.9],[357.6,3.2],[359.9,2.7],[362.0,3.1],[363.5,2.5],[356.3,-3.4],[358.0,-4.1],[359.6,-3.5],[361.2,-4.3],
  [362.8,-3.3],[357.0,-5.2],[358.8,-6.0],[360.4,-5.7],[361.9,-5.0],[363.4,-6.3],[356.0,-8.0],[357.4,-7.6],[358.3,-7.3],[359.5,-6.6],[361.0,-7.4],
  [362.5,-7.8],[355.4,4.4],[357.0,6.5],[358.6,4.9],[359.0,9.1],[361.5,9.3],[362.0,8.7],[360.2,6.0],[362.6,5.2],[363.6,7.0],
  [361.0,-1.0],[361.1,0.0],[360.9,-0.4],[361.2,-1.8],
  [355.6,-0.7],[356.3,0.5],[357.0,-1.6],[357.7,0.9],[358.4,-0.8],[359.1,0.4],[359.8,-1.2],[360.5,0.2],[361.3,-2.4],[362.0,-0.9],[362.7,-1.8],
  [363.4,0.6],[355.3,-2.6],[356.7,-2.3],[358.3,-2.9],[359.9,-2.9],[361.5,-3.0],[363.1,-2.6],[355.9,1.8],[357.3,2.2],[358.9,2.5],[360.4,1.8],
  [361.9,1.0],[363.3,1.7],[360.1,-0.4],[361.4,1.4],[356.8,-4.3],[359.0,-4.8],[360.8,-4.2],[362.4,-4.6],[363.8,-4.0],[356.1,-6.2],[357.9,-6.4],
  [362.3,-6.2],[360.9,3.6],[358.0,3.8],[355.8,3.9]];

var sagittarius = [[364.5,2.4],[366.4,2.5],[368.6,2.3],[371.0,2.4],[373.4,2.5],[375.6,2.3],[377.8,2.4],
  [365.3,2.1],[367.5,2.0],[369.8,2.2],[372.2,2.1],[374.5,2.0],[376.7,2.2],[378.2,2.1],
  [364.2,1.8],[366.2,1.9],[368.4,1.7],[370.6,1.8],[372.8,1.9],[375.0,1.7],[377.2,1.8],
  [365.0,1.5],[367.1,1.4],[369.4,1.6],[371.7,1.5],[373.9,1.4],[376.1,1.6],[378.0,1.5],
  [364.4,1.2],[366.3,1.3],[368.2,1.1],[370.3,1.2],[372.5,1.3],[374.6,1.1],[376.8,1.2],[378.5,1.3],
  [365.2,0.9],[367.2,0.8],[369.2,1.0],[371.3,0.9],[373.4,0.8],[375.5,1.0],[377.6,0.9],
  [364.3,0.6],[366.1,0.7],[368.0,0.5],[369.9,0.6],[371.9,0.7],[373.9,0.5],[375.9,0.6],[377.9,0.7],
  [365.0,0.3],[366.9,0.2],[368.8,0.4],[370.8,0.3],[372.8,0.2],[374.8,0.4],[376.8,0.3],[378.4,0.2],
  [364.9,0.4],[366.0,1.0],[367.0,1.9],[367.8,1.0],[368.9,2.0],[369.6,0.4],[370.0,1.5],[370.8,2.1],[371.5,1.2],[372.3,0.5],[373.0,1.6],[373.8,2.2],
  [374.3,0.8],[375.0,2.4],[375.4,1.3],[376.3,0.9],[377.0,1.5],[377.4,2.0],[378.6,1.8],[378.8,0.4],
  [365.4,2.3],[367.5,2.3],[369.7,2.3],[372.1,2.3],[374.4,2.3],[376.6,2.3],[365.2,1.7],[367.3,1.7],[369.5,1.7],[371.8,1.7],[374.0,1.7],[376.2,1.7],
  [378.3,1.7],[364.5,1.0],[366.6,1.0],[368.5,1.0],[370.6,1.0],[372.7,1.0],[374.8,1.0],[376.9,1.0],[378.3,1.0],[365.4,0.5],[367.4,0.5],[369.3,0.5],
  [371.3,0.5],[373.3,0.5],[375.3,0.5],[377.3,0.5],
  [364.4,0.0],[365.6,-0.1],[366.8,0.1],[368.0,0.0],[369.2,-0.1],[370.4,0.1],[371.6,0.0],[372.8,-0.1],[374.0,0.1],[375.2,0.0],[376.4,-0.1],[377.6,0.1],
  [365.0,-0.3],[366.2,-0.2],[367.4,-0.4],[368.6,-0.3],[369.8,-0.2],[371.0,-0.4],[372.2,-0.3],[373.4,-0.2],[374.6,-0.4],[375.8,-0.3],[377.0,-0.2],[378.2,-0.4],
  [364.3,-0.6],[365.5,-0.7],[366.7,-0.5],[367.9,-0.6],[369.1,-0.7],[370.3,-0.5],[371.5,-0.6],[372.7,-0.7],[373.9,-0.5],[375.1,-0.6],[376.3,-0.7],[377.5,-0.5],
  [364.9,-0.9],[366.1,-0.8],[367.3,-1.0],[368.5,-0.9],[369.7,-0.8],[370.9,-1.0],[372.1,-0.9],[373.3,-0.8],[374.5,-1.0],[375.7,-0.9],[376.9,-0.8],[378.1,-1.0],
  [364.4,-1.2],[365.6,-1.3],[366.8,-1.1],[368.0,-1.2],[369.2,-1.3],[370.4,-1.1],[371.6,-1.2],[372.8,-1.3],[374.0,-1.1],[375.2,-1.2],[376.4,-1.3],[377.6,-1.1],
  [365.0,-1.5],[366.2,-1.4],[367.4,-1.6],[368.6,-1.5],[369.8,-1.4],[371.0,-1.6],[372.2,-1.5],[373.4,-1.4],[374.6,-1.6],[375.8,-1.5],[377.0,-1.4],[378.3,-1.6],
  [364.6,-1.8],[365.8,-1.9],[367.0,-1.7],[368.2,-1.8],[369.4,-1.9],[370.6,-1.7],[371.8,-1.8],[373.0,-1.9],[374.2,-1.7],[375.4,-1.8],[376.6,-1.9],[377.8,-1.7],
  [365.3,-2.1],[366.6,-2.0],[367.9,-2.2],[369.2,-2.1],[370.5,-2.0],[371.8,-2.2],[373.1,-2.1],[374.4,-2.0],[375.7,-2.2],[377.0,-2.1],
  [364.8,-2.4],[366.3,-2.5],[367.8,-2.3],[369.4,-2.4],[371.0,-2.5],[372.6,-2.3],[374.2,-2.4],[375.8,-2.5],[377.3,-2.3],
  [378.6,-0.7],[378.8,-1.3],[378.7,-1.9],[365.6,-1.6],[367.2,-2.0],[368.4,-2.5],[369.9,-2.2],[371.2,-1.9],[372.5,-2.0],[373.8,-2.2],[375.0,-2.1],
  [376.2,-2.3],[377.6,-2.1],[366.4,-1.1],[367.6,-0.8],[369.0,-1.0],[370.2,-0.8],[371.3,-1.4],[372.5,-1.1],[373.7,-1.0],[374.9,-1.4],[376.1,-1.0],
  [377.3,-1.3],[366.0,-0.5],[367.0,-0.2],[368.3,-0.6],[369.5,-0.5],[370.7,-0.2],[372.0,-0.6],[373.1,-0.4],[374.3,-0.7],[375.5,-0.4],[376.7,-0.5],
  [365.2,-1.0],[367.9,-1.0],[370.5,-1.0],[373.9,-1.0],[376.5,-1.0],[366.6,-1.7],[369.0,-1.7],[371.3,-1.7],[374.7,-1.7],[377.2,-1.7],
  [364.0,-1.5],[363.8,-0.4],[363.9,0.9],[364.3,-2.0],[366.0,-3.2],[369.0,-3.6],[371.5,-2.8],[374.8,-3.1],[377.0,-2.7],[378.0,-3.4],
  [379.0,-0.5],[379.3,-1.4],[378.8,0.8],[379.2,-2.0],
  [364.2,3.4],[365.0,3.7],[366.3,2.9],[367.5,3.9],[368.2,6.2],[369.0,8.0],[369.6,7.3],[370.0,6.0],[370.8,4.5],[371.7,3.3],[372.5,3.9],[373.2,4.5],
  [374.0,4.9],[374.3,4.5],[375.4,3.0],[376.2,2.7],[377.5,2.3],[366.0,10.2],[368.0,10.9],[370.0,10.4],[371.0,10.1],[367.2,8.8],[365.5,5.3],
  [366.7,4.4],[371.4,5.5],[364.8,6.9],[368.8,3.5],[363.8,9.6],[376.8,2.0],[378.1,1.9],
  [364.8,4.2],[366.0,3.5],[369.5,2.8],[372.0,2.8],[373.6,3.2],[374.6,2.9],[376.5,3.2],[367.0,5.8],[369.3,5.3],
  [364.3,-3.0],[365.4,-3.6],[366.5,-2.8],[367.6,-4.1],[368.7,-3.3],[369.8,-2.9],[370.9,-3.8],[372.0,-3.1],[373.1,-4.4],[374.2,-3.5],[375.3,-2.8],
  [376.4,-3.9],[377.5,-3.2],[378.4,-4.1],[364.8,-4.6],[366.9,-5.0],[369.2,-4.7],[371.5,-4.9],[373.8,-5.3],[375.6,-4.7],[377.5,-4.3],[378.9,-2.8],
  [380.0,-4.5],[380.5,-5.4],[379.6,-3.5],
  [365.1,-6.2],[366.2,-6.5],[367.3,-5.7],[368.0,-7.9],[369.5,-6.8],[370.2,-7.1],[371.4,-6.0],[372.0,-8.3],[373.0,-6.6],[374.1,-7.4],[375.0,-7.9],
  [376.0,-6.0],[377.0,-5.7],[378.0,-7.0],[381.5,-7.6],[364.5,-8.0],[366.8,-7.6],[379.0,-6.3],[381.0,-4.0]];

// the blackest strip of Sagittarius, just below the plane
var sagittariusCore = [[364.9,-0.1],[366.3,-0.2],[367.6,-0.1],[369.0,-0.2],[370.4,-0.1],[371.8,-0.2],[373.2,-0.1],[374.6,-0.2],[376.0,-0.1],[377.4,-0.2],
  [364.6,-0.7],[366.0,-0.8],[367.4,-0.7],[368.8,-0.8],[370.2,-0.7],[371.6,-0.8],[373.0,-0.7],[374.4,-0.8],[375.8,-0.7],[377.2,-0.8],[378.5,-0.7],
  [364.8,-1.3],[366.2,-1.4],[367.6,-1.3],[369.0,-1.4],[370.4,-1.3],[371.8,-1.4],[373.2,-1.3],[374.6,-1.4],[376.0,-1.3],[377.4,-1.4],
  [365.0,-1.9],[366.4,-2.0],[367.8,-1.9],[369.2,-2.0],[370.6,-1.9],[372.0,-2.0],[373.4,-1.9],[374.8,-2.0],[376.2,-1.9],[377.6,-2.0]];

var highlighted = [[375.5,-1.15]];

var constellations = ["CMa", "Pup", "Vel", "Car", "Cru", "TrA", "Sco", "Sgr"];
var constellationLon = [227.8, 253.7, 268.2, 279.3, 295.7, 319.1, 345.0, 370.4];

var xTicks = [180, 200, 220, 240, 260, 280, 300, 320, 340, 360, 380];
var yTicks = [-12, -8, -4, 0, 4, 8, 12];

var svgWidth = 1519;
var svgHeight = 914;
var margin = {top: 57, right: 2, bottom: 168, left: 165};
var width = svgWidth - margin.left - margin.right;
var height = svgHeight - margin.top - margin.bottom;

var svg = d3.select("#chart").append("svg")
  .attr("width", svgWidth)
  .attr("height", svgHeight);
var chartGroup = svg.append("g")
  .attr("transform", `translate(${margin.left}, ${margin.top})`);

var xScale = d3.scaleLinear().domain([180, 388.5]).range([0, width]);
var yScale = d3.scaleLinear().domain([-12, 12]).range([height, 0]);

var minorX = d3.range(180, 389, 5);
var minorY = d3.range(-12, 13, 1);
var plainNum = d => String(d);

// minor ticks (all four sides, pointing inward)
chartGroup.append("g").attr("class", "tk").attr("transform", `translate(0,${height})`)
  .call(d3.axisBottom(xScale).tickValues(minorX).tickSize(-8).tickSizeOuter(0).tickFormat(""));
chartGroup.append("g").attr("class", "tk")
  .call(d3.axisTop(xScale).tickValues(minorX).tickSize(-8).tickSizeOuter(0).tickFormat(""));
chartGroup.append("g").attr("class", "tk")
  .call(d3.axisLeft(yScale).tickValues(minorY).tickSize(-8).tickSizeOuter(0).tickFormat(""));
chartGroup.append("g").attr("class", "tk").attr("transform", `translate(${width},0)`)
  .call(d3.axisRight(yScale).tickValues(minorY).tickSize(-8).tickSizeOuter(0).tickFormat(""));

// major ticks with labels
chartGroup.append("g").attr("class", "tk lab").attr("transform", `translate(0,${height})`)
  .call(d3.axisBottom(xScale).tickValues(xTicks).tickSize(-15).tickSizeOuter(0).tickPadding(36).tickFormat(plainNum));
chartGroup.append("g").attr("class", "tk")
  .call(d3.axisTop(xScale).tickValues(xTicks).tickSize(-15).tickSizeOuter(0).tickFormat(""));
chartGroup.append("g").attr("class", "tk lab")
  .call(d3.axisLeft(yScale).tickValues(yTicks).tickSize(-15).tickSizeOuter(0).tickPadding(28).tickFormat(plainNum));
chartGroup.append("g").attr("class", "tk").attr("transform", `translate(${width},0)`)
  .call(d3.axisRight(yScale).tickValues(yTicks).tickSize(-15).tickSizeOuter(0).tickFormat(""));

chartGroup.selectAll(".tk .domain").remove();
chartGroup.selectAll(".tk line").attr("stroke", "#000").attr("stroke-width", 2.5);
chartGroup.selectAll(".lab text")
  .attr("font-size", "33px")
  .attr("font-weight", "bold")
  .attr("font-family", "'Liberation Sans', Arial, sans-serif")
  .attr("fill", "#000");

// frame and zero line
chartGroup.append("rect")
  .attr("x", 0).attr("y", 0)
  .attr("width", width).attr("height", height)
  .attr("fill", "none").attr("stroke", "#000").attr("stroke-width", 3);
chartGroup.append("line")
  .attr("x1", 0).attr("x2", width)
  .attr("y1", yScale(0)).attr("y2", yScale(0))
  .attr("stroke", "#000").attr("stroke-width", 3);

var allStars = [].concat(anticentre, canisMajor, puppis, vela, velaCarina, carina, carinaCore, crux, cruxCore,
  triangulum, norma, scorpius, ara, sagittarius, sagittariusCore);

chartGroup.selectAll("circle.star")
  .data(allStars)
  .enter()
  .append("circle")
  .attr("class", "star")
  .attr("cx", d => xScale(d[0]))
  .attr("cy", d => yScale(d[1]))
  .attr("r", 3.6)
  .attr("fill", "#000");

chartGroup.selectAll("circle.hl")
  .data(highlighted)
  .enter()
  .append("circle")
  .attr("class", "hl")
  .attr("cx", d => xScale(d[0]))
  .attr("cy", d => yScale(d[1]))
  .attr("r", 4.5)
  .attr("fill", "#e0303c");

// constellation names along the top
svg.selectAll("text.con")
  .data(constellations)
  .enter()
  .append("text")
  .attr("class", "con")
  .attr("x", (d, i) => margin.left + xScale(constellationLon[i]))
  .attr("y", 38)
  .attr("text-anchor", "middle")
  .attr("font-size", "27px")
  .style("letter-spacing", "1px")
  .text(d => d);

chartGroup.append("text")
  .attr("x", xScale(186.6))
  .attr("y", yScale(9.5))
  .attr("font-size", "29px")
  .style("letter-spacing", "2px")
  .style("word-spacing", "4px")
  .text("All LS stars");

svg.append("text")
  .attr("x", 850)
  .attr("y", 905)
  .attr("text-anchor", "middle")
  .attr("font-size", "34px")
  .style("letter-spacing", "3px")
  .style("word-spacing", "14px")
  .text("Galactic longitude");

svg.append("text")
  .attr("transform", "translate(44,396) rotate(-90)")
  .attr("text-anchor", "middle")
  .attr("font-size", "33px")
  .style("letter-spacing", "3px")
  .style("word-spacing", "14px")
  .text("Galactic latitude");
</script>
</body>
</html>
